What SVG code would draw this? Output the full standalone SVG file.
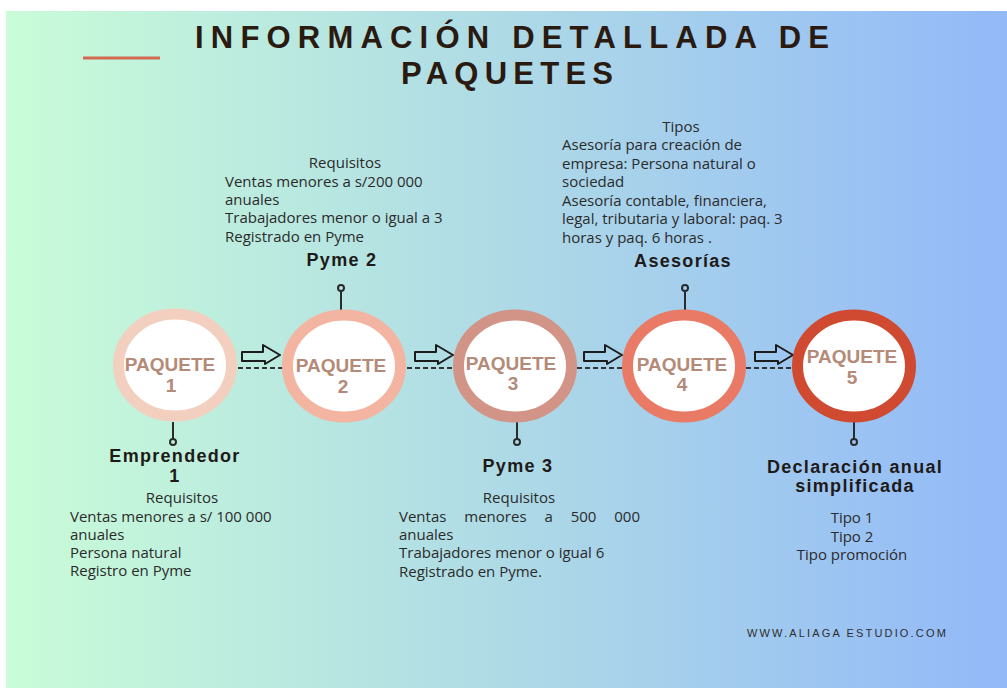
<svg xmlns="http://www.w3.org/2000/svg" width="1007" height="690" viewBox="0 0 1007 690">
<defs>
<linearGradient id="bg" x1="0" y1="0" x2="1" y2="0">
<stop offset="0" stop-color="#c9fcd8"/>
<stop offset="0.5" stop-color="#aedae6"/>
<stop offset="1" stop-color="#93b9f8"/>
</linearGradient>
<style>
.ring{fill:#ffffff;stroke-width:11}
.pk{font-family:"Liberation Sans",Arial,sans-serif;font-weight:bold;font-size:19px;fill:#b48a78;text-anchor:middle}
.hd{font-family:"Liberation Sans",Arial,sans-serif;font-weight:bold;font-size:18px;fill:#1e1a18;letter-spacing:1.3px;text-anchor:middle}
.tx{font-family:"Open Sans","Liberation Sans",sans-serif;font-size:15px;fill:#2b2b2b}
.c{text-anchor:middle}
.pin{stroke:#2a2a2a;stroke-width:2;fill:none}
.dash{stroke:#333;stroke-width:2;stroke-dasharray:5 3;fill:none}
.arr{fill:none;stroke:#1c1c1c;stroke-width:2;stroke-linejoin:round}
</style>
</defs>
<rect x="0" y="0" width="1007" height="690" fill="#ffffff"/>
<rect x="6" y="11" width="1001" height="677" fill="url(#bg)"/>
<line x1="83" y1="58" x2="160" y2="58" stroke="#d26a52" stroke-width="3"/>
<g id="title" font-family="'Liberation Sans',Arial,sans-serif" font-weight="bold" font-size="31" fill="#2a1a10" text-anchor="middle">
<text x="512" y="48" textLength="634" lengthAdjust="spacing">INFORMACIÓN DETALLADA DE</text>
<text x="507" y="84" textLength="212" lengthAdjust="spacing">PAQUETES</text>
</g>
<g id="connectors">
<line class="dash" x1="238" y1="368" x2="283" y2="368"/>
<line class="dash" x1="407" y1="368" x2="454" y2="368"/>
<line class="dash" x1="577" y1="368" x2="623" y2="368"/>
<line class="dash" x1="746" y1="368" x2="793" y2="368"/>
<path class="arr" d="M242,352 L263,352 L263,345 L280,355 L265,364 L265,361 L242,361 Z"/>
<path class="arr" d="M415,352 L436,352 L436,345 L453,355 L438,364 L438,361 L415,361 Z"/>
<path class="arr" d="M584,352 L605,352 L605,345 L622,355 L607,364 L607,361 L584,361 Z"/>
<path class="arr" d="M755,352 L776,352 L776,345 L793,355 L778,364 L778,361 L755,361 Z"/>
<path class="pin" d="M341,291 V310"/><circle class="pin" cx="341" cy="288" r="3"/>
<path class="pin" d="M685,291 V310"/><circle class="pin" cx="685" cy="288" r="3"/>
<path class="pin" d="M173,422 V439"/><circle class="pin" cx="173" cy="442" r="3"/>
<path class="pin" d="M517,422 V439"/><circle class="pin" cx="517" cy="442" r="3"/>
<path class="pin" d="M854,422 V439"/><circle class="pin" cx="854" cy="442" r="3"/>
</g>
<g id="paquete1">
<ellipse class="ring" cx="175" cy="365" rx="56.5" ry="51" stroke="#f2cfbf"/>
<text class="pk" x="170" y="371">PAQUETE</text><text class="pk" x="171" y="392">1</text>
</g>
<g id="paquete2">
<ellipse class="ring" cx="344" cy="366" rx="56.5" ry="51" stroke="#f4b4a2"/>
<text class="pk" x="341" y="372">PAQUETE</text><text class="pk" x="343" y="393">2</text>
</g>
<g id="paquete3">
<ellipse class="ring" cx="515" cy="366" rx="56.5" ry="51" stroke="#d39488"/>
<text class="pk" x="511" y="370">PAQUETE</text><text class="pk" x="513" y="390">3</text>
</g>
<g id="paquete4">
<ellipse class="ring" cx="684" cy="366" rx="56.5" ry="51" stroke="#e97a66"/>
<text class="pk" x="682" y="371">PAQUETE</text><text class="pk" x="682" y="391">4</text>
</g>
<g id="paquete5">
<ellipse class="ring" cx="854" cy="366" rx="56.5" ry="51" stroke="#cf4a30"/>
<text class="pk" x="852" y="363">PAQUETE</text><text class="pk" x="852" y="384">5</text>
</g>
<g id="pyme2">
<text class="tx c" x="345" y="168">Requisitos</text>
<text class="tx" x="225" y="187">Ventas menores a s/200 000</text>
<text class="tx" x="225" y="205">anuales</text>
<text class="tx" x="225" y="223">Trabajadores menor o igual a 3</text>
<text class="tx" x="225" y="242">Registrado en Pyme</text>
<text class="hd" x="342" y="266">Pyme 2</text>
</g>
<g id="asesorias">
<text class="tx c" x="681" y="132">Tipos</text>
<text class="tx" x="562" y="150">Asesoría para creación de</text>
<text class="tx" x="562" y="169">empresa: Persona natural o</text>
<text class="tx" x="562" y="187">sociedad</text>
<text class="tx" x="562" y="206">Asesoría contable, financiera,</text>
<text class="tx" x="562" y="224">legal, tributaria y laboral: paq. 3</text>
<text class="tx" x="562" y="243">horas y paq. 6 horas .</text>
<text class="hd" x="683" y="267">Asesorías</text>
</g>
<g id="emprendedor1">
<text class="hd" x="175" y="462">Emprendedor</text>
<text class="hd" x="175" y="482">1</text>
<text class="tx c" x="182" y="503">Requisitos</text>
<text class="tx" x="70" y="522">Ventas menores a s/ 100 000</text>
<text class="tx" x="70" y="540">anuales</text>
<text class="tx" x="70" y="558">Persona natural</text>
<text class="tx" x="70" y="576">Registro en Pyme</text>
</g>
<g id="pyme3">
<text class="hd" x="518" y="472">Pyme 3</text>
<text class="tx c" x="519" y="503">Requisitos</text>
<text class="tx" x="399" y="522" word-spacing="14">Ventas menores a 500 000</text>
<text class="tx" x="399" y="540">anuales</text>
<text class="tx" x="399" y="558">Trabajadores menor o igual 6</text>
<text class="tx" x="399" y="577">Registrado en Pyme.</text>
</g>
<g id="declaracion">
<text class="hd" x="855" y="473">Declaración anual</text>
<text class="hd" x="855" y="492">simplificada</text>
<text class="tx c" x="852" y="523">Tipo 1</text>
<text class="tx c" x="852" y="542">Tipo 2</text>
<text class="tx c" x="852" y="560">Tipo promoción</text>
</g>
<text id="web" x="847" y="637" text-anchor="middle" font-family="'Liberation Sans',Arial,sans-serif" font-size="11" letter-spacing="1.2" fill="#2e2e2e" textLength="200" lengthAdjust="spacing">WWW.ALIAGA ESTUDIO.COM</text>
</svg>
